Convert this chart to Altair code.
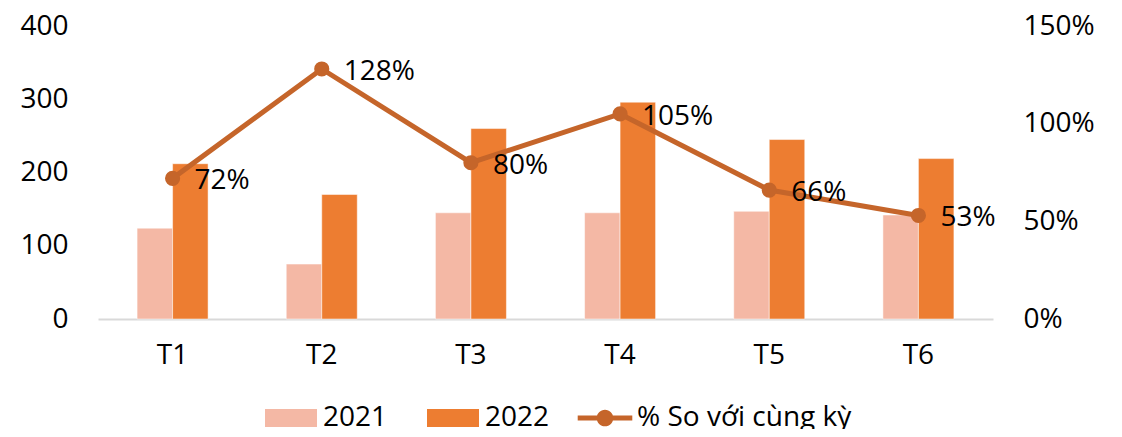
import altair as alt
import pandas as pd

months = ["T1", "T2", "T3", "T4", "T5", "T6"]
v2021 = [124, 75, 145, 145, 147, 142]
v2022 = [212, 170, 260, 296, 245, 219]
pct = [72, 128, 80, 105, 66, 53]
series = ["2021", "2022", "% So với cùng kỳ"]
colors = ["#F4B8A5", "#ED7D31", "#C5652A"]

FONT = "Open Sans"
FS = 28

bars_df = pd.DataFrame(
    {"month": months * 2, "series": ["2021"] * 6 + ["2022"] * 6, "value": v2021 + v2022}
)
line_df = pd.DataFrame({"month": months, "pct": pct, "label": [f"{p}%" for p in pct]})
legend_df = pd.DataFrame({"series": series})

xscale = alt.Scale(domain=months, paddingInner=0.524, paddingOuter=0.262)
x_enc = alt.X(
    "month:N",
    scale=xscale,
    sort=months,
    axis=alt.Axis(
        title=None,
        labelAngle=0,
        ticks=False,
        domain=True,
        domainColor="#D9D9D9",
        domainWidth=2,
        labelPadding=22,
        labelFont=FONT,
        labelFontSize=FS,
        labelColor="#000000",
    ),
)

rect_path = "M-1,-0.35 L1,-0.35 L1,0.35 L-1,0.35 Z"
line_path = "M-1.05,-0.1 L1.05,-0.1 L1.05,0.1 L-1.05,0.1 Z M0.32,0 A0.32,0.32 0 1,1 -0.32,0 A0.32,0.32 0 1,1 0.32,0 Z"

bars = alt.Chart(bars_df).mark_bar(stroke="white", strokeWidth=0.5).encode(
    x=x_enc,
    xOffset=alt.XOffset("series:N", sort=["2021", "2022"], scale=alt.Scale(paddingInner=0, paddingOuter=0)),
    y=alt.Y(
        "value:Q",
        scale=alt.Scale(domain=[0, 400], nice=False),
        axis=alt.Axis(
            title=None,
            orient="left",
            values=[0, 100, 200, 300, 400],
            ticks=False,
            domain=False,
            grid=False,
            labelPadding=30,
            labelFont=FONT,
            labelFontSize=FS,
            labelColor="#000000",
        ),
    ),
    color=alt.Color(
        "series:N",
        scale=alt.Scale(domain=series[:2], range=colors[:2]),
        legend=None,
    ),
)

yr = alt.Y(
    "pct:Q",
    scale=alt.Scale(domain=[0, 150], nice=False),
    axis=alt.Axis(
        title=None,
        orient="right",
        values=[0, 50, 100, 150],
        labelExpr="datum.value + '%'",
        ticks=False,
        domain=False,
        grid=False,
        labelPadding=30,
        labelAlign="left",
        labelFont=FONT,
        labelFontSize=FS,
        labelColor="#000000",
    ),
)

line = alt.Chart(line_df).mark_line(color=colors[2], strokeWidth=5).encode(
    x=alt.X("month:N", sort=months), y=yr
)
points = alt.Chart(line_df).mark_point(
    filled=True, color=colors[2], size=230, opacity=1
).encode(x=alt.X("month:N", sort=months), y=yr)
labels = alt.Chart(line_df).mark_text(
    align="left", baseline="middle", dx=22, dy=3, font=FONT, fontSize=FS, color="#000000"
).encode(x=alt.X("month:N", sort=months), y=yr, text="label:N")

LEG_Y = 366
common = dict(
    title=None,
    orient="none",
    direction="horizontal",
    legendY=LEG_Y,
    symbolSize=2704,
    symbolStrokeWidth=0,
    symbolOpacity=1,
    labelFont=FONT,
    labelFontSize=FS,
    labelColor="#000000",
    labelOffset=6,
    labelLimit=500,
    columnPadding=39,
)

legend_years = (
    alt.Chart(legend_df)
    .transform_filter("false")
    .mark_point(filled=True)
    .encode(
        color=alt.Color(
            "series:N",
            scale=alt.Scale(domain=series[:2], range=colors[:2]),
            legend=alt.Legend(legendX=167, symbolType=rect_path, **common),
        ),
    )
)

legend_line = (
    alt.Chart(legend_df)
    .transform_filter("false")
    .mark_point(filled=True, color=colors[2])
    .encode(
        shape=alt.Shape(
            "series:N",
            scale=alt.Scale(domain=series[2:], range=[line_path]),
            legend=alt.Legend(legendX=481, symbolType=line_path, symbolFillColor=colors[2], **common),
        ),
    )
)

right = alt.layer(line, points, labels, legend_years, legend_line)

chart = (
    alt.layer(bars, right)
    .resolve_scale(y="independent", color="independent")
    .properties(
        width=895,
        height=293,
        autosize=alt.AutoSizeParams(type="none"),
        padding={"left": 90, "top": 18, "right": 121, "bottom": 110},
        background="white",
    )
    .configure_view(strokeWidth=0, stroke="transparent")
)

chart.save("out.html", embed_options={"renderer": "svg", "actions": False})
